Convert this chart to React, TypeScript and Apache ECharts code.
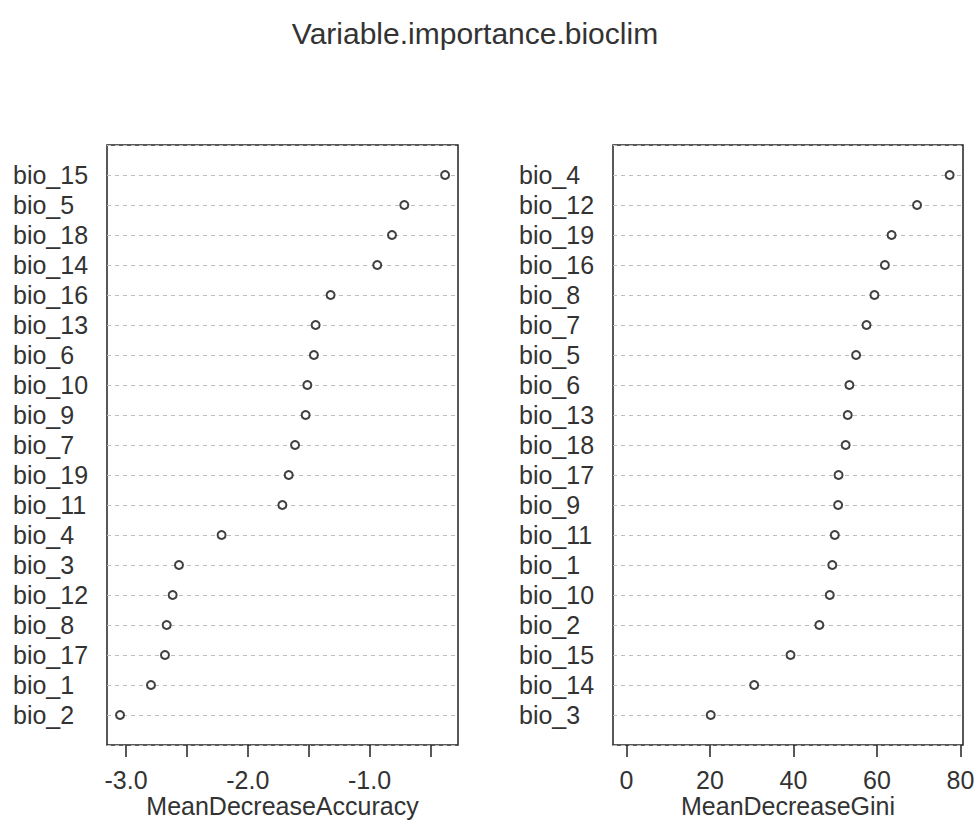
import React, { useEffect, useRef } from "react";
import * as echarts from "echarts";

const chartTitle = "Variable.importance.bioclim";

const accNames = ["bio_15", "bio_5", "bio_18", "bio_14", "bio_16", "bio_13", "bio_6", "bio_10", "bio_9", "bio_7", "bio_19", "bio_11", "bio_4", "bio_3", "bio_12", "bio_8", "bio_17", "bio_1", "bio_2"];
const accValues = [-0.38, -0.715, -0.816, -0.937, -1.32, -1.443, -1.457, -1.511, -1.525, -1.612, -1.664, -1.716, -2.215, -2.565, -2.617, -2.666, -2.68, -2.795, -3.049];

const giniNames = ["bio_4", "bio_12", "bio_19", "bio_16", "bio_8", "bio_7", "bio_5", "bio_6", "bio_13", "bio_18", "bio_17", "bio_9", "bio_11", "bio_1", "bio_10", "bio_2", "bio_15", "bio_14", "bio_3"];
const giniValues = [77.4, 69.6, 63.5, 61.9, 59.4, 57.5, 55.0, 53.4, 53.0, 52.5, 50.8, 50.7, 49.9, 49.3, 48.7, 46.2, 39.3, 30.6, 20.2];

const accTicks = [-3.0, -2.5, -2.0, -1.5, -1.0, -0.5];
const accTickLabels = [-3.0, -2.0, -1.0];
const giniTicks = [0, 20, 40, 60, 80];
const giniTickLabels = [0, 20, 40, 60, 80];

const accXName = "MeanDecreaseAccuracy";
const giniXName = "MeanDecreaseGini";

const FONT = "'Liberation Sans', Arial, Helvetica, sans-serif";
const TEXT = "#333";

export default function App() {
  const ref = useRef<HTMLDivElement>(null);
  useEffect(() => {
    if (!ref.current) return;
    const chart = echarts.init(ref.current, undefined, { renderer: "svg" });
    const n = accNames.length;
    const toData = (vals: number[]) => vals.map((v, i) => [v, n - i]);
    const nameAt = (names: string[]) => (v: number) => {
      const idx = n - v;
      if (v < 1 || v > n || idx < 0 || idx >= names.length) return "";
      return names[idx];
    };
    const grids = [
      { left: 107, top: 145, width: 351, height: 600 },
      { left: 613, top: 145, width: 350, height: 600 },
    ];
    const xAxisCommon = (min: number, max: number, ticks: number[], labels: number[], name: string, fmt: (v: number) => string, gridIndex: number) => ({
      type: "value",
      gridIndex,
      min,
      max,
      name,
      nameLocation: "middle",
      nameGap: 48,
      nameMoveOverlap: false,
      nameTextStyle: { fontFamily: FONT, fontSize: 25, color: TEXT, lineHeight: 25 },
      axisLine: { show: false },
      axisTick: { show: true, customValues: ticks, length: 12, inside: false, lineStyle: { color: "#222", width: 1.5 } },
      axisLabel: { show: true, customValues: labels, margin: 22, fontFamily: FONT, fontSize: 25, color: TEXT, formatter: fmt },
      splitLine: { show: false },
    });
    const yAxisCommon = (names: string[], gridIndex: number) => ({
      type: "value",
      gridIndex,
      min: 0,
      max: n + 1,
      interval: 1,
      axisLine: { show: false },
      axisTick: { show: false },
      axisLabel: {
        show: true,
        align: "left",
        margin: 94,
        fontFamily: FONT,
        fontSize: 25,
        color: TEXT,
        showMinLabel: false,
        showMaxLabel: false,
        formatter: nameAt(names),
      },
      splitLine: { show: true, lineStyle: { color: "#bdbdbd", width: 1, type: [4, 4] } },
    });
    chart.setOption({
      animation: false,
      backgroundColor: "#fff",
      graphic: [
        {
          type: "text",
          x: 475,
          y: 33,
          style: {
            text: chartTitle,
            fontFamily: FONT,
            fontSize: 30,
            fill: TEXT,
            align: "center",
            verticalAlign: "middle",
          },
        },
      ],
      grid: grids.map((g) => ({
        ...g,
        show: true,
        borderColor: "#222",
        borderWidth: 1.5,
        backgroundColor: "transparent",
        containLabel: false,
        outerBoundsMode: "none",
      })),
      xAxis: [
        xAxisCommon(-3.156, -0.274, accTicks, accTickLabels, accXName, (v: number) => v.toFixed(1), 0),
        xAxisCommon(-3.2, 80.6, giniTicks, giniTickLabels, giniXName, (v: number) => String(Math.round(v)), 1),
      ],
      yAxis: [yAxisCommon(accNames, 0), yAxisCommon(giniNames, 1)],
      series: [
        {
          type: "scatter",
          xAxisIndex: 0,
          yAxisIndex: 0,
          data: toData(accValues),
          symbol: "circle",
          symbolSize: 8,
          itemStyle: { color: "#fff", borderColor: "#111", borderWidth: 2 },
        },
        {
          type: "scatter",
          xAxisIndex: 1,
          yAxisIndex: 1,
          data: toData(giniValues),
          symbol: "circle",
          symbolSize: 8,
          itemStyle: { color: "#fff", borderColor: "#111", borderWidth: 2 },
        },
      ],
    });
    return () => chart.dispose();
  }, []);
  return <div ref={ref} style={{ position: "fixed", left: 0, top: 0, width: 977, height: 821, background: "#fff" }} />;
}
